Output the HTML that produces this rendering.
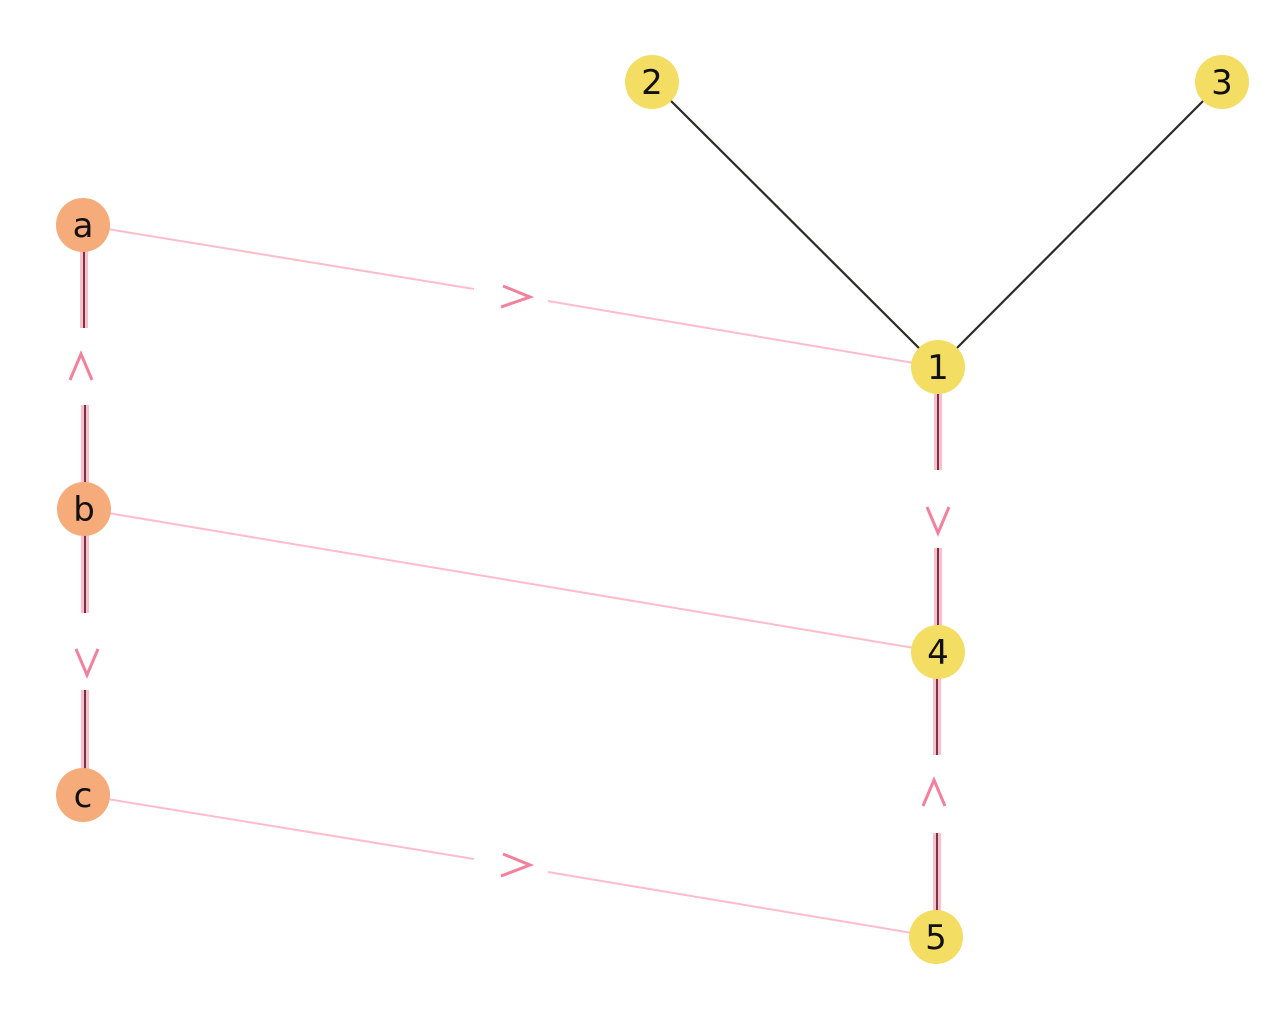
<!DOCTYPE html>
<html><head><meta charset="utf-8"><style>html,body{margin:0;padding:0;background:#fff}svg{display:block}</style></head>
<body>
<svg width="1280" height="1009" viewBox="0 0 1280 1009" xmlns="http://www.w3.org/2000/svg">
<g stroke="#2b2b25" stroke-width="2.2">
<line x1="652" y1="82" x2="938" y2="367"/>
<line x1="1222" y1="82" x2="938" y2="367"/>
</g>
<g stroke="#ffbccb" stroke-width="2">
<line x1="83" y1="225" x2="474" y2="289"/>
<line x1="548" y1="301" x2="938" y2="367"/>
<line x1="84" y1="509" x2="938" y2="652"/>
<line x1="83" y1="795" x2="474" y2="859"/>
<line x1="548" y1="872" x2="936" y2="937"/>
</g>
<g stroke="#ffbccb" stroke-width="8">
<line x1="84" y1="250" x2="84" y2="328"/><line x1="85" y1="405" x2="85" y2="485"/>
<line x1="85" y1="535" x2="85" y2="613"/><line x1="85" y1="690" x2="85" y2="770"/>
<line x1="938" y1="393" x2="938" y2="470"/><line x1="938" y1="548" x2="938" y2="627"/>
<line x1="937" y1="678" x2="937" y2="755"/><line x1="937" y1="833" x2="937" y2="912"/>
</g>
<g stroke="#6a3a45" stroke-width="2">
<line x1="84" y1="250" x2="84" y2="328"/><line x1="85" y1="405" x2="85" y2="485"/>
<line x1="85" y1="535" x2="85" y2="613"/><line x1="85" y1="690" x2="85" y2="770"/>
<line x1="938" y1="393" x2="938" y2="470"/><line x1="938" y1="548" x2="938" y2="627"/>
<line x1="937" y1="678" x2="937" y2="755"/><line x1="937" y1="833" x2="937" y2="912"/>
</g>
<g fill="none" stroke="#f3819c" stroke-width="3" stroke-linejoin="miter">
<polyline points="70,380 81,354 92,380"/>
<polyline points="76,649 87,675 98,649"/>
<polyline points="927,507 938,533 949,507"/>
<polyline points="923,806 934,780 945,806"/>
<polyline points="503,286 530,297 501,307"/>
<polyline points="503,854 530,865 501,876"/>
</g>
<g font-family="'DejaVu Sans','Liberation Sans',sans-serif" font-size="34" text-anchor="middle" fill="#111">
<circle cx="83" cy="225" r="27" fill="#f5ab7a"/><text x="83" y="237">a</text>
<circle cx="84" cy="509" r="27" fill="#f5ab7a"/><text x="84" y="521">b</text>
<circle cx="83" cy="795" r="27" fill="#f5ab7a"/><text x="83" y="807">c</text>
<circle cx="938" cy="367" r="27" fill="#f3dd63"/><text x="938" y="379">1</text>
<circle cx="652" cy="82" r="27" fill="#f3dd63"/><text x="652" y="94">2</text>
<circle cx="1222" cy="82" r="27" fill="#f3dd63"/><text x="1222" y="94">3</text>
<circle cx="938" cy="652" r="27" fill="#f3dd63"/><text x="938" y="664">4</text>
<circle cx="936" cy="937" r="27" fill="#f3dd63"/><text x="936" y="949">5</text>
</g>
</svg>
</body></html>
